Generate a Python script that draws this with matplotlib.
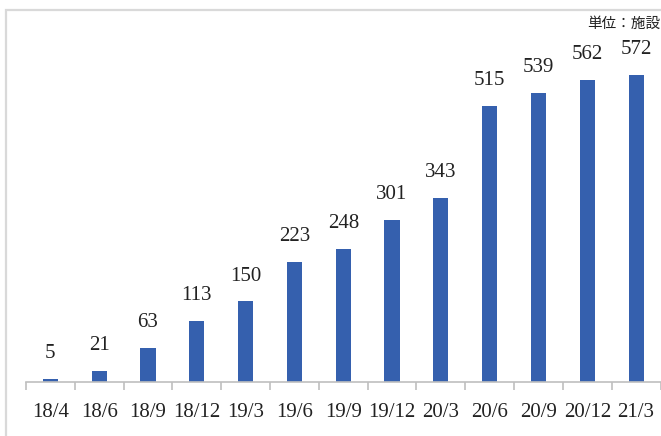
import matplotlib
matplotlib.use("Agg")
import matplotlib.pyplot as plt
from matplotlib.patches import Rectangle

categories = ["18/4", "18/6", "18/9", "18/12", "19/3", "19/6", "19/9",
              "19/12", "20/3", "20/6", "20/9", "20/12", "21/3"]
values = [5, 21, 63, 113, 150, 223, 248, 301, 343, 515, 539, 562, 572]
unit_label = "単位：施設"

W, H, DPI = 661, 436, 100
fig = plt.figure(figsize=(W / DPI, H / DPI), dpi=DPI)
fig.patch.set_facecolor("white")

# light grey frame around the chart area
fig.patches.append(Rectangle((6 / W, -0.1), 1.2, 1 - 10 / H + 0.1,
                             transform=fig.transFigure, fill=False,
                             edgecolor="#d9d9d9", linewidth=1.6, zorder=0))

ax = fig.add_axes([26 / W, 1 - 382 / H, (660.5 - 26) / W, (382 - 38.5) / H])
x = list(range(len(categories)))
ax.bar(x, values, width=0.31, color="#3560ae", zorder=2)

ax.set_xlim(-0.5, len(categories) - 0.5)
ax.set_ylim(0, 640)

serif = "Liberation Serif"
for xi, v in zip(x, values):
    ax.annotate(str(v), (xi, v), xytext=(0, 11.5), textcoords="offset points",
                ha="center", va="bottom", fontsize=15, family=serif,
                color="#222222")

for s in ["top", "right", "left"]:
    ax.spines[s].set_visible(False)
ax.spines["bottom"].set_color("#bfbfbf")
ax.spines["bottom"].set_linewidth(1.2)
ax.set_yticks([])

ax.set_xticks(x)
ax.set_xticklabels(categories, fontsize=15, family=serif, color="#222222")
ax.tick_params(axis="x", which="major", length=0, pad=15)
ax.set_xticks([i - 0.5 for i in range(len(categories) + 1)], minor=True)
ax.tick_params(axis="x", which="minor", length=6, color="#bfbfbf", width=1.2)

fig.text(660 / W, 1 - 24 / H, unit_label, ha="right", va="center",
         fontsize=10.5, family=["Noto Sans CJK JP", "DejaVu Sans"],
         color="#222222")

fig.savefig("out.png", dpi=DPI, facecolor="white")
